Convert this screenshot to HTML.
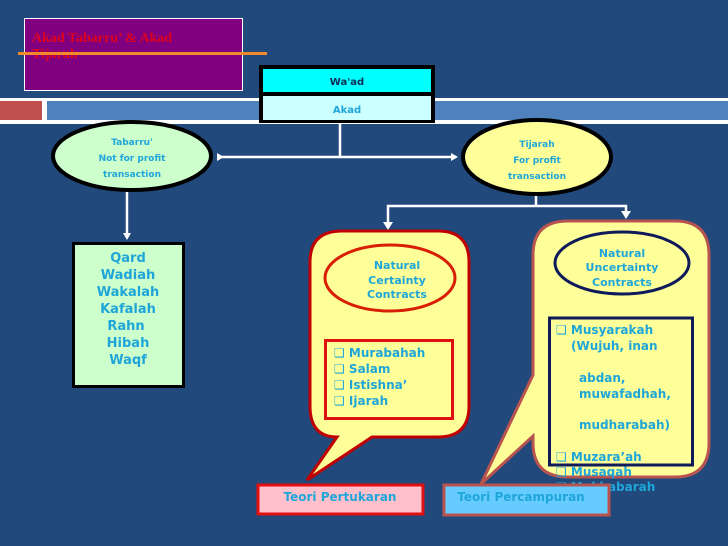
<!DOCTYPE html>
<html><head><meta charset="utf-8"><style>
html,body{margin:0;padding:0;background:#22497c;}
svg{display:block}
text{font-family:"DejaVu Sans","Liberation Sans",sans-serif;font-weight:bold;fill:#1fa6d9}
</style></head><body>
<svg width="728" height="546" viewBox="0 0 728 546" xmlns="http://www.w3.org/2000/svg">
<defs><marker id="a" markerWidth="8" markerHeight="8" refX="5" refY="4" orient="auto" markerUnits="userSpaceOnUse"><path d="M0,0 L7,4 L0,8 Z" fill="#fff"/></marker></defs>
<rect width="728" height="546" fill="#22497c"/>
<!-- band -->
<rect x="0" y="98" width="728" height="26" fill="#fff"/>
<rect x="0" y="101" width="42" height="19" fill="#c0504d"/>
<rect x="47" y="101" width="681" height="19" fill="#4f81bd"/>
<!-- title -->
<rect x="24.5" y="18.5" width="218" height="72" fill="#800080" stroke="#fff" stroke-width="1"/>
<text x="32" y="42" style="font-family:'Liberation Serif',serif;fill:#e0001b;font-size:14px">Akad Tabarru’ &amp; Akad</text>
<text x="32" y="58" style="font-family:'Liberation Serif',serif;fill:#e0001b;font-size:14px">Tijarah</text>
<rect x="18" y="52" width="249" height="3" fill="#f08a2c"/>
<!-- Wa'ad Akad -->
<rect x="259" y="65" width="176" height="58" fill="#000"/>
<rect x="263" y="69" width="168" height="23" fill="#00ffff"/>
<rect x="263" y="96" width="168" height="24" fill="#ccffff"/>
<text x="347" y="85" text-anchor="middle" style="fill:#0d2b55;font-size:10px">Wa'ad</text>
<text x="347" y="113" text-anchor="middle" style="font-size:10px">Akad</text>
<!-- connectors -->
<line x1="340" y1="123" x2="340" y2="157" stroke="#fff" stroke-width="2.5"/>
<line x1="222" y1="157" x2="456" y2="157" stroke="#fff" stroke-width="2.5" marker-start="url(#a)" marker-end="url(#a)"/>
<line x1="127" y1="190" x2="127" y2="238" stroke="#fff" stroke-width="2.5" marker-end="url(#a)"/>
<line x1="536" y1="194" x2="536" y2="206" stroke="#fff" stroke-width="2.5"/>
<polyline points="388,226 388,206 626,206 626,213" fill="none" stroke="#fff" stroke-width="2.5"/>
<path d="M383,222 L393,222 L388,230 Z M621,211 L631,211 L626,219 Z" fill="#fff"/>
<!-- ellipses -->
<ellipse cx="132" cy="156" rx="79" ry="34" fill="#ccffcc" stroke="#000" stroke-width="4"/>
<text x="132" y="145" text-anchor="middle" style="font-size:9px">Tabarru'</text>
<text x="132" y="161" text-anchor="middle" style="font-size:9px">Not for profit</text>
<text x="132" y="177" text-anchor="middle" style="font-size:9px">transaction</text>
<ellipse cx="537" cy="157" rx="74" ry="37" fill="#ffff99" stroke="#000" stroke-width="4"/>
<text x="537" y="147" text-anchor="middle" style="font-size:9px">Tijarah</text>
<text x="537" y="163" text-anchor="middle" style="font-size:9px">For profit</text>
<text x="537" y="179" text-anchor="middle" style="font-size:9px">transaction</text>
<!-- green box -->
<rect x="73.5" y="243.5" width="110" height="143" fill="#ccffcc" stroke="#000" stroke-width="3"/>
<g style="font-size:13px" text-anchor="middle">
<text x="128" y="262">Qard</text><text x="128" y="279">Wadiah</text><text x="128" y="296">Wakalah</text><text x="128" y="313">Kafalah</text><text x="126" y="330">Rahn</text><text x="128" y="347">Hibah</text><text x="128" y="364">Waqf</text>
</g>
<!-- left callout -->
<path d="M342,231 L438,231 Q469,231 469,262 L469,406 Q469,437 438,437 L372,437 L307,480 L337,437 Q310,437 310,406 L310,262 Q310,231 342,231 Z" fill="#ffff99" stroke="#c00000" stroke-width="3"/>
<ellipse cx="390" cy="278" rx="65" ry="33" fill="#ffff99" stroke="#d81e05" stroke-width="3"/>
<g style="font-size:11px" text-anchor="middle"><text x="397" y="269">Natural</text><text x="397" y="284">Certainty</text><text x="397" y="298">Contracts</text></g>
<rect x="325.5" y="340.5" width="127" height="78" fill="none" stroke="#e01010" stroke-width="3"/>
<g style="font-size:12px"><text x="334" y="357">❑ Murabahah</text><text x="334" y="373">❑ Salam</text><text x="334" y="389">❑ Istishna’</text><text x="334" y="405">❑ Ijarah</text></g>
<!-- right callout -->
<path d="M568,221 L675,221 Q709,221 709,255 L709,443 Q709,477 675,477 L568,477 Q533,477 533,443 L533,436 L481,484 L533,375 L533,255 Q533,221 568,221 Z" fill="#ffff99" stroke="#b85450" stroke-width="3"/>
<ellipse cx="622" cy="263" rx="67" ry="31" fill="#ffff99" stroke="#0f1a5a" stroke-width="3"/>
<g style="font-size:11px" text-anchor="middle"><text x="622" y="257">Natural</text><text x="622" y="271">Uncertainty</text><text x="622" y="286">Contracts</text></g>
<rect x="549.5" y="318" width="143" height="147" fill="none" stroke="#0f1a5a" stroke-width="3"/>
<g style="font-size:12px"><text x="556" y="334">❑ Musyarakah</text><text x="571" y="350">(Wujuh, inan</text><text x="579" y="382">abdan,</text><text x="579" y="398">muwafadhah,</text><text x="579" y="429">mudharabah)</text><text x="556" y="461">❑ Muzara’ah</text><text x="556" y="476">❑ Musaqah</text><text x="556" y="491">❑ Mukhabarah</text></g>
<!-- Teori boxes -->
<rect x="258" y="485" width="165" height="29" fill="#ffc0cb" stroke="#e01010" stroke-width="3"/>
<text x="340" y="501" text-anchor="middle" style="font-size:12px">Teori Pertukaran</text>
<rect x="444" y="485" width="165" height="30" fill="#66ccff" stroke="#b85450" stroke-width="3"/>
<text x="521" y="501" text-anchor="middle" style="font-size:12px">Teori Percampuran</text>
</svg>
</body></html>
